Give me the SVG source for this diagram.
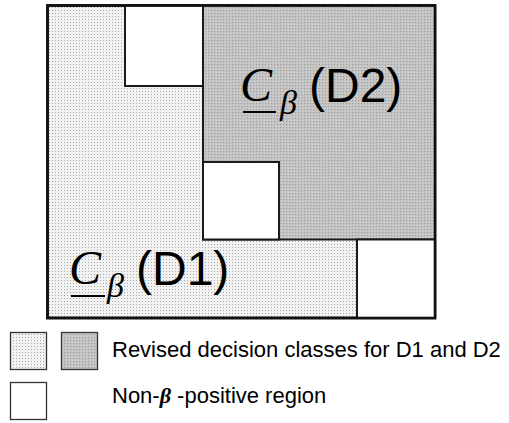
<svg xmlns="http://www.w3.org/2000/svg" width="509" height="423" viewBox="0 0 509 423">
  <defs>
    <pattern id="light" width="3" height="3" patternUnits="userSpaceOnUse">
      <rect width="3" height="3" fill="#f2f2f2"/>
      <rect x="1" y="1" width="1" height="1" fill="#a8a8a8"/>
    </pattern>
    <pattern id="dark" width="3" height="3" patternUnits="userSpaceOnUse">
      <rect width="3" height="3" fill="#c4c4c4"/>
      <rect x="1" y="1" width="1" height="1" fill="#9c9c9c"/>
      <rect x="0" y="0" width="1" height="1" fill="#d2d2d2"/>
    </pattern>
  </defs>
  <style>
    .ln { stroke: #1a1a1a; stroke-width: 2; }
    .leg { stroke: #333333; stroke-width: 1.3; }
    .serif { font-family: "Liberation Serif", "Times New Roman", serif; font-style: italic; fill: #000; }
    .sans { font-family: "Liberation Sans", Arial, sans-serif; fill: #000; }
    .white { fill: #ffffff; }
  </style>

  <g id="frame">
    <rect x="47.5" y="5.5" width="387.5" height="312.5" fill="url(#light)" stroke="#111" stroke-width="2.6"/>
  </g>

  <g id="region-D2">
    <rect x="203" y="5.5" width="232" height="234" fill="url(#dark)" class="ln"/>
  </g>

  <g id="nonpos-top">
    <rect x="125" y="5.5" width="78" height="80.5" class="white ln"/>
  </g>

  <g id="nonpos-middle">
    <rect x="203" y="162" width="76" height="77.5" class="white ln"/>
  </g>

  <g id="nonpos-bottom">
    <rect x="357" y="239.5" width="78" height="78.5" class="white ln"/>
  </g>

  <g id="frame-border">
    <rect x="47.5" y="5.5" width="387.5" height="312.5" fill="none" stroke="#111" stroke-width="2.6"/>
  </g>

  <g id="label-D2">
    <text x="240" y="101" class="serif" font-size="48">C</text>
    <line x1="243" y1="112" x2="276" y2="112" stroke="#000" stroke-width="2"/>
    <text x="280" y="114" class="serif" font-size="34">β</text>
    <text x="309" y="102" class="sans" font-size="48">(D2)</text>
  </g>

  <g id="label-D1">
    <text x="69" y="284" class="serif" font-size="48">C</text>
    <line x1="71" y1="296" x2="105" y2="296" stroke="#000" stroke-width="2"/>
    <text x="107" y="297" class="serif" font-size="34">β</text>
    <text x="136" y="285" class="sans" font-size="48">(D1)</text>
  </g>

  <g id="legend-revised">
    <rect x="10.5" y="332.5" width="36" height="37" fill="url(#light)" class="leg"/>
    <rect x="61.5" y="332.5" width="36" height="37" fill="url(#dark)" class="leg"/>
    <text x="112" y="357" class="sans" font-size="22">Revised decision classes for D1 and D2</text>
  </g>

  <g id="legend-nonpos">
    <rect x="10.5" y="382.5" width="36" height="37" class="white leg"/>
    <text x="112" y="403" class="sans" font-size="22">Non-<tspan font-family="'Liberation Serif', serif" font-style="italic" font-weight="bold">β</tspan> -positive region</text>
  </g>
</svg>
